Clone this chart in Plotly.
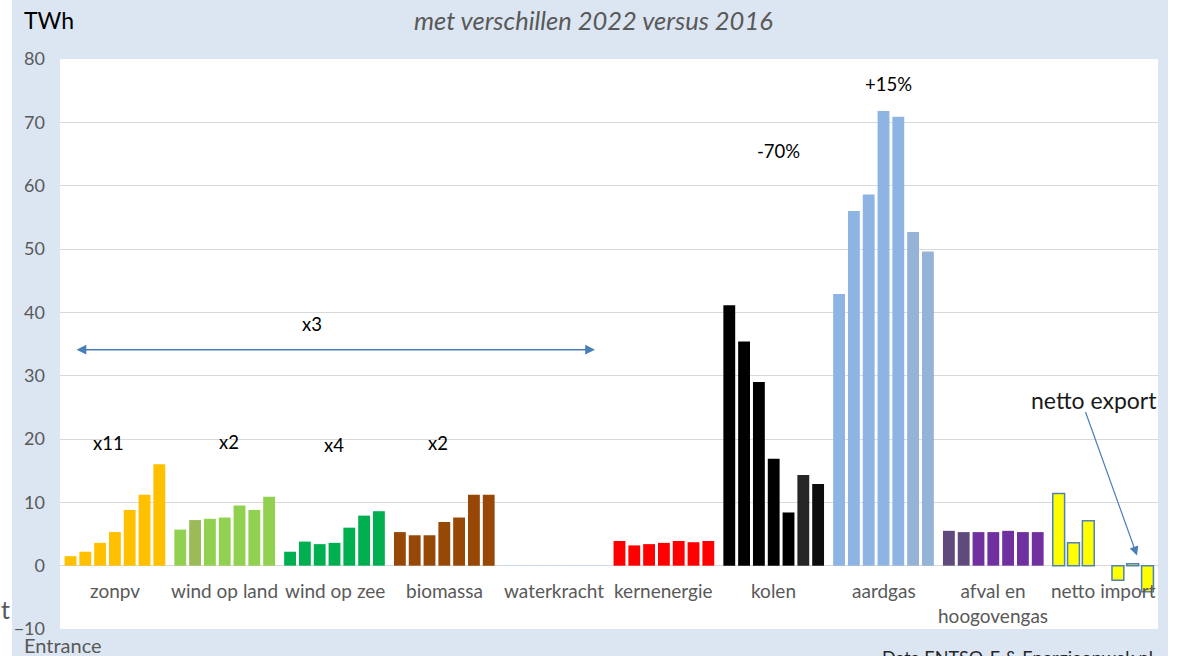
import plotly.graph_objects as go

# ---------------- data ----------------
years = ["2016", "2017", "2018", "2019", "2020", "2021", "2022"]
categories = ["zonpv", "wind op land", "wind op zee", "biomassa", "waterkracht",
              "kernenergie", "kolen", "aardgas", "afval en<br>hoogovengas", "netto import"]

zonpv = [1.5, 2.2, 3.6, 5.3, 8.8, 11.2, 16.0]
wind_op_land = [5.7, 7.2, 7.4, 7.6, 9.5, 8.8, 10.9]
wind_op_zee = [2.2, 3.8, 3.4, 3.6, 6.0, 7.9, 8.6]
biomassa = [5.3, 4.8, 4.8, 6.9, 7.6, 11.2, 11.2]
waterkracht = [0.1, 0.1, 0.1, 0.1, 0.1, 0.1, 0.1]
kernenergie = [3.9, 3.2, 3.4, 3.6, 3.9, 3.7, 3.9]
kolen = [41.1, 35.4, 29.0, 16.9, 8.4, 14.3, 12.9]
aardgas = [42.9, 56.0, 58.6, 71.8, 70.9, 52.7, 49.6]
afval_en_hoogovengas = [5.5, 5.3, 5.3, 5.3, 5.5, 5.3, 5.3]
netto_import = [11.4, 3.6, 7.1, None, -2.3, 0.3, -4.1]

group_labels = ["x11", "x2", "x4", "x2"]
total_label = "x3"
kolen_label = "-70%"
aardgas_label = "+15%"

values_by_cat = [zonpv, wind_op_land, wind_op_zee, biomassa, waterkracht,
                 kernenergie, kolen, aardgas, afval_en_hoogovengas, netto_import]

# ---------------- styles ----------------
fill_colors = [
    ["#FFC000"] * 7,
    ["#92D050", "#9BBB59", "#92D050", "#92D050", "#92D050", "#92D050", "#92D050"],
    ["#00B050"] * 7,
    ["#974706"] * 7,
    ["#C6D9F1"] * 7,
    ["#FF0000"] * 7,
    ["#000000"] * 5 + ["#262626", "#0D0D0D"],
    ["#8EB4E3"] * 5 + ["#95B3D7", "#95B3D7"],
    ["#604A7B", "#604A7B"] + ["#7030A0"] * 5,
    ["#FFFF00"] * 7,
]
line_colors = ["#FFFFFF"] * 9 + ["#4F81BD"]
line_widths = [0] * 9 + [1.5]

FONT = "Lato, Carlito, Calibri, sans-serif"
GREY = "#595959"

fig = go.Figure()
for j, yr in enumerate(years):
    fig.add_trace(go.Bar(
        name=yr,
        x=categories,
        y=[vals[j] for vals in values_by_cat],
        marker=dict(color=[c[j] for c in fill_colors],
                    line=dict(color=line_colors, width=line_widths)),
        showlegend=False,
        hoverinfo="skip",
    ))

W, H = 1182, 656
L, R, T, B = 60, 24, 59, 27
pw, ph = W - L - R, H - T - B


def px(xp):
    return (xp - L) / pw


def py(yp):
    return (H - B - yp) / ph


annotations = []
# category labels inside plot
for c in categories:
    annotations.append(dict(x=c, y=-1.8, xref="x", yref="y", text=c, showarrow=False,
                            xanchor="center", yanchor="top",
                            font=dict(size=19, color=GREY, family=FONT)))

# group change labels
for xi, yv, t in [(-0.054, 19.4, group_labels[0]), (1.039, 19.5, group_labels[1]),
                  (1.995, 19.1, group_labels[2]), (2.943, 19.4, group_labels[3]),
                  (1.795, 38.2, total_label), (6.04, 65.5, kolen_label),
                  (7.05, 76.1, aardgas_label)]:
    annotations.append(dict(x=xi, y=yv, xref="x", yref="y", text=t, showarrow=False,
                            xanchor="center", yanchor="middle",
                            font=dict(size=18.5, color="#000000", family=FONT)))

# double arrow x3
annotations.append(dict(x=4.372, y=34.1, ax=-0.363, ay=34.1, xref="x", yref="y",
                        axref="x", ayref="y", text="", showarrow=True, arrowhead=2,
                        arrowside="end+start", arrowsize=1.3, arrowwidth=1.5,
                        arrowcolor="#4A7EBB"))
# netto export
annotations.append(dict(x=px(1094), y=py(400), xref="paper", yref="paper",
                        text="netto export", showarrow=False,
                        xanchor="center", yanchor="middle",
                        font=dict(size=23, color="#1a1a1a", family=FONT)))
annotations.append(dict(x=9.309, y=1.6, ax=8.835, ay=24.5, xref="x", yref="y",
                        axref="x", ayref="y", text="", showarrow=True, arrowhead=2,
                        arrowsize=1.5, arrowwidth=1.2, arrowcolor="#4A7EBB"))

# outer texts
annotations += [
    dict(x=px(22), y=py(20), xref="paper", yref="paper", text="TWh", showarrow=False,
         xanchor="left", yanchor="middle", font=dict(size=23, color="#000000", family=FONT)),
    dict(x=px(593), y=py(20), xref="paper", yref="paper",
         text="<i>met verschillen 2022 versus 2016</i>", showarrow=False,
         xanchor="center", yanchor="middle",
         font=dict(size=25.5, color=GREY, family=FONT)),
    dict(x=px(22), y=py(645), xref="paper", yref="paper", text="Entrance", showarrow=False,
         xanchor="left", yanchor="middle", font=dict(size=20, color=GREY, family=FONT)),
    dict(x=px(12), y=py(609), xref="paper", yref="paper", text="t", showarrow=False,
         xanchor="right", yanchor="middle", font=dict(size=25, color=GREY, family=FONT)),
    dict(x=px(880), y=py(644), xref="paper", yref="paper",
         text="Data ENTSO-E &amp; Energieopwek.nl", showarrow=False,
         xanchor="left", yanchor="top", font=dict(size=18, color="#262626", family=FONT)),
]

shapes = [
    dict(type="rect", xref="paper", yref="paper", x0=px(-5), x1=px(12), y0=py(H + 5), y1=py(-5),
         fillcolor="white", line=dict(width=0), layer="below"),
    dict(type="rect", xref="paper", yref="paper", x0=px(1168), x1=px(W + 5), y0=py(H + 5), y1=py(-5),
         fillcolor="white", line=dict(width=0), layer="below"),
]

fig.update_layout(
    width=W, height=H,
    margin=dict(l=L, r=R, t=T, b=B, autoexpand=False),
    paper_bgcolor="#DCE6F2",
    plot_bgcolor="#FFFFFF",
    barmode="group",
    bargap=0.056,
    bargroupgap=0.2,
    font=dict(family=FONT, color=GREY),
    xaxis=dict(showticklabels=False, showgrid=False, showline=False, zeroline=False,
               range=[-0.5, 9.5], fixedrange=True),
    yaxis=dict(range=[-10, 80], dtick=10, showgrid=True, gridcolor="#D9D9D9", gridwidth=1,
               zeroline=True, zerolinecolor="#D9D9D9", zerolinewidth=1, showline=False,
               tickfont=dict(size=18, color=GREY, family=FONT), ticks="",
               ticklabelstandoff=14, fixedrange=True),
    annotations=annotations,
    shapes=shapes,
)

fig.write_html("out.html", config={"displayModeBar": False},
               post_script="document.body.style.margin='0px';document.body.style.overflow='hidden';")
